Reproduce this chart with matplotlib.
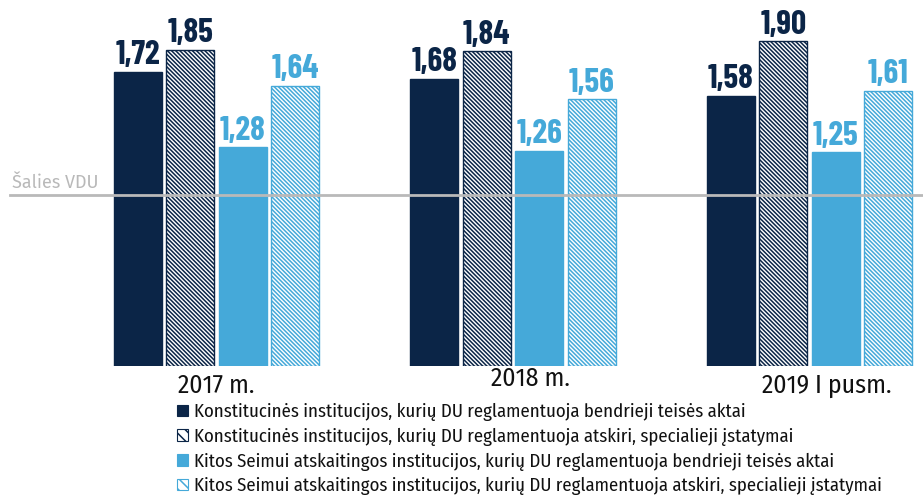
import matplotlib
matplotlib.use("Agg")
import matplotlib.pyplot as plt
from matplotlib.patches import Patch
from matplotlib import font_manager
import numpy as np

# data
years = ["2017 m.", "2018 m.", "2019 I pusm."]
konst_bendrieji = [1.72, 1.68, 1.58]
konst_specialieji = [1.85, 1.84, 1.90]
kitos_bendrieji = [1.28, 1.26, 1.25]
kitos_specialieji = [1.64, 1.56, 1.61]
salies_vdu = 1.0
series_names = [
    "Konstitucinės institucijos, kurių DU reglamentuoja bendrieji teisės aktai",
    "Konstitucinės institucijos, kurių DU reglamentuoja atskiri, specialieji įstatymai",
    "Kitos Seimui atskaitingos institucijos, kurių DU reglamentuoja bendrieji teisės aktai",
    "Kitos Seimui atskaitingos institucijos, kurių DU reglamentuoja atskiri, specialieji įstatymai",
]

navy = "#0b2547"
blue = "#45a9d9"
grey = "#b9b9b9"

installed = {f.name for f in font_manager.fontManager.ttflist}


def pick(*fams):
    for f in fams:
        if f in installed:
            return f
    return "DejaVu Sans"


num_font = pick("Barlow Condensed", "Roboto Condensed", "Asap Condensed")
text_font = pick("Fira Sans Condensed", "Roboto Condensed", "Barlow Semi Condensed", "Asap Condensed")
vdu_font = pick("Fira Sans", "Open Sans", "Noto Sans")

plt.rcParams["font.family"] = [text_font, "DejaVu Sans"]
plt.rcParams["hatch.linewidth"] = 1.1

fig = plt.figure(figsize=(9.23, 4.97), dpi=100)
ax = fig.add_axes([0, 0.2636, 1, 0.7364])

x = np.arange(len(years))
step = 0.177
width = 0.162
dense = "\\" * 8
styles = [
    dict(facecolor=navy, edgecolor=navy, hatch=None),
    dict(facecolor="white", edgecolor=navy, hatch=dense),
    dict(facecolor=blue, edgecolor=blue, hatch=None),
    dict(facecolor="white", edgecolor=blue, hatch=dense),
]
all_series = [konst_bendrieji, konst_specialieji, kitos_bendrieji, kitos_specialieji]
label_colors = [navy, navy, blue, blue]

for k, vals in enumerate(all_series):
    pos = x + (k - 1.5) * step
    ax.bar(pos, vals, width=width, linewidth=1, **styles[k])
    for p, v in zip(pos, vals):
        ax.annotate(f"{v:.2f}".replace(".", ","), (p, v), xytext=(0, 1),
                    textcoords="offset points", ha="center", va="bottom",
                    fontsize=24, fontweight="bold", color=label_colors[k],
                    family=[num_font, "DejaVu Sans"])

ax.axhline(salies_vdu, xmin=10 / 923, xmax=1, color=grey, linewidth=2)
ax.text(12 / 923, salies_vdu + 0.02, "Šalies VDU", transform=ax.get_yaxis_transform(),
        fontsize=13, color=grey, va="bottom", ha="left", family=[vdu_font, "DejaVu Sans"])

ax.set_xlim(-0.730, 2.383)
ax.set_ylim(0, 2.14)
ax.axis("off")

# year labels under the groups (offsets in pixels, as in the original layout)
dx = [0, 17, 17]
dy = [0, 7, 0]
for i, yr in enumerate(years):
    ax.annotate(yr, (x[i], 0), xytext=(dx[i] * 0.72, -5 + dy[i] * 0.72),
                textcoords="offset points", ha="center", va="top",
                fontsize=18.5, color="#111111")

# legend squares use a coarser hatch like the original
legend_styles = [dict(s, hatch="\\\\\\" if s["hatch"] else None) for s in styles]
handles = [Patch(facecolor=s["facecolor"], edgecolor=s["edgecolor"], hatch=s["hatch"], linewidth=0.8)
           for s in legend_styles]
fig.legend(handles, series_names, loc="upper left", bbox_to_anchor=(177 / 923, 1 - 403 / 497),
           frameon=False, fontsize=13.5, handlelength=0.58, handleheight=0.58,
           handletextpad=0.3, labelspacing=0.35, borderaxespad=0, borderpad=0,
           labelcolor="#111111")

fig.savefig("out.png", dpi=100)
